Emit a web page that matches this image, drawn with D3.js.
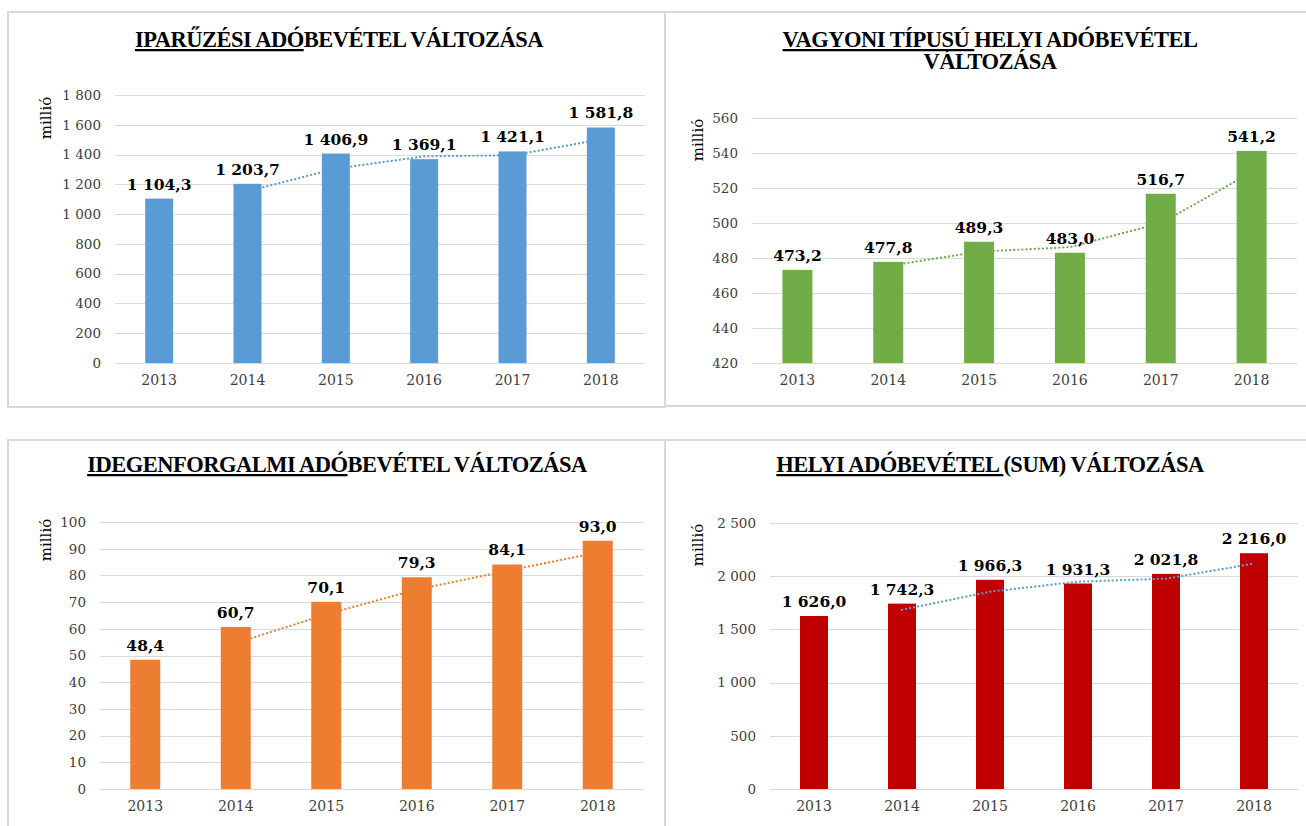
<!DOCTYPE html>
<html>
<head>
<meta charset="utf-8">
<script src="https://cdn.jsdelivr.net/npm/d3@7"></script>
<style>
  html, body { margin: 0; padding: 0; background: #ffffff; }
  svg { display: block; }
</style>
</head>
<body>
<svg id="chart" width="1306" height="826"></svg>
<script>
// ---------------- DATA ----------------
const years = ["2013", "2014", "2015", "2016", "2017", "2018"];

const iparuzesiValues = [1104.3, 1203.7, 1406.9, 1369.1, 1421.1, 1581.8];
const iparuzesiTrend  = [null, 1154.0, 1305.3, 1388.0, 1395.1, 1501.5];
const iparuzesiTicks  = [0, 200, 400, 600, 800, 1000, 1200, 1400, 1600, 1800];

const vagyoniValues = [473.2, 477.8, 489.3, 483.0, 516.7, 541.2];
const vagyoniTrend  = [null, 475.5, 483.6, 486.2, 499.9, 529.0];
const vagyoniTicks  = [420, 440, 460, 480, 500, 520, 540, 560];

const idegenValues = [48.4, 60.7, 70.1, 79.3, 84.1, 93.0];
const idegenTrend  = [null, 54.6, 65.4, 74.7, 81.7, 88.6];
const idegenTicks  = [0, 10, 20, 30, 40, 50, 60, 70, 80, 90, 100];

const helyiValues = [1626.0, 1742.3, 1966.3, 1931.3, 2021.8, 2216.0];
const helyiTrend  = [null, 1684.2, 1854.3, 1948.8, 1976.6, 2118.9];
const helyiTicks  = [0, 500, 1000, 1500, 2000, 2500];

const titleIparuzesi = [[{t: "IPARŰZÉSI ADÓ", u: true}, {t: "BEVÉTEL VÁLTOZÁSA", u: false}]];
const titleVagyoni   = [[{t: "VAGYONI TÍPUSÚ ", u: true}, {t: "HELYI ADÓBEVÉTEL", u: false}], [{t: "VÁLTOZÁSA", u: false}]];
const titleIdegen    = [[{t: "IDEGENFORGALMI ADÓ", u: true}, {t: "BEVÉTEL VÁLTOZÁSA", u: false}]];
const titleHelyi     = [[{t: "HELYI ADÓBEVÉTEL ", u: true}, {t: "(SUM) VÁLTOZÁSA", u: false}]];

const axisTitle = "millió";

// ---------------- STYLE / LAYOUT ----------------
const huLocale = d3.formatLocale({decimal: ",", thousands: "\u00a0", grouping: [3], currency: ["", " Ft"]});
const fmtValue = huLocale.format(",.1f");
const fmtTick = huLocale.format(",d");

const panels = [
  {values: iparuzesiValues, trend: iparuzesiTrend, ticks: iparuzesiTicks, title: titleIparuzesi,
   color: "#5B9BD5", trendColor: "#5B9BD5",
   box: [8, 12, 665, 407], x0: 115, x1: 645, y0: 363, y1: 95, titleX: 339, titleY: 47,
   axisTitleX: 51, axisTitleY: 118, barW: 28},
  {values: vagyoniValues, trend: vagyoniTrend, ticks: vagyoniTicks, title: titleVagyoni,
   color: "#70AD47", trendColor: "#70AD47",
   box: [665, 12, 1320, 406], x0: 752, x1: 1297, y0: 363, y1: 118, titleX: 990, titleY: 47,
   axisTitleX: 703, axisTitleY: 140, barW: 30},
  {values: idegenValues, trend: idegenTrend, ticks: idegenTicks, title: titleIdegen,
   color: "#ED7D31", trendColor: "#ED7D31",
   box: [8, 440, 665, 840], x0: 100, x1: 643, y0: 789, y1: 522, titleX: 337, titleY: 472,
   axisTitleX: 51, axisTitleY: 540, barW: 30},
  {values: helyiValues, trend: helyiTrend, ticks: helyiTicks, title: titleHelyi,
   color: "#C00000", trendColor: "#5B9BD5",
   box: [665, 440, 1320, 840], x0: 770, x1: 1298, y0: 789, y1: 523, titleX: 990, titleY: 472,
   axisTitleX: 703, axisTitleY: 545, barW: 28}
];

const svg = d3.select("#chart");

panels.forEach(p => {
  const g = svg.append("g");

  // panel border
  g.append("rect")
    .attr("x", p.box[0]).attr("y", p.box[1])
    .attr("width", p.box[2] - p.box[0]).attr("height", p.box[3] - p.box[1])
    .attr("fill", "#ffffff").attr("stroke", "#D9D9D9").attr("stroke-width", 2);

  const x = d3.scaleBand().domain(years).range([p.x0, p.x1]);
  const yDomain = d3.extent(p.ticks);
  const y = d3.scaleLinear().domain(yDomain).range([p.y0, p.y1]);

  // gridlines
  g.append("g").selectAll("line").data(p.ticks).join("line")
    .attr("x1", p.x0).attr("x2", p.x1)
    .attr("y1", d => Math.round(y(d)) + 0.5).attr("y2", d => Math.round(y(d)) + 0.5)
    .attr("stroke", "#D9D9D9").attr("stroke-width", 1);

  // y axis
  const yAxis = d3.axisLeft(y).tickValues(p.ticks).tickFormat(fmtTick).tickSize(0).tickPadding(14);
  const ya = g.append("g").attr("transform", `translate(${p.x0},0)`).call(yAxis);
  ya.select(".domain").remove();
  ya.selectAll("text").attr("font-family", "'DejaVu Serif', serif").attr("font-size", 13.5).attr("fill", "#404040");

  // x axis
  const xAxis = d3.axisBottom(x).tickSize(0).tickPadding(12);
  const xa = g.append("g").attr("transform", `translate(0,${p.y0})`).call(xAxis);
  xa.select(".domain").remove();
  xa.selectAll("text").attr("font-family", "'DejaVu Serif', serif").attr("font-size", 14).attr("fill", "#404040");

  // bars
  g.append("g").selectAll("rect").data(p.values).join("rect")
    .attr("x", (d, i) => x(years[i]) + x.bandwidth() / 2 - p.barW / 2)
    .attr("width", p.barW)
    .attr("y", d => y(d))
    .attr("height", d => y(yDomain[0]) - y(d))
    .attr("fill", p.color);

  // trend line (moving average, dotted)
  const line = d3.line()
    .defined(d => d != null)
    .x((d, i) => x(years[i]) + x.bandwidth() / 2)
    .y(d => y(d));
  g.append("path").datum(p.trend)
    .attr("d", line)
    .attr("fill", "none")
    .attr("stroke", p.trendColor)
    .attr("stroke-width", 2.2)
    .attr("stroke-linecap", "round")
    .attr("stroke-dasharray", "0.1,4");

  // data labels
  g.append("g").selectAll("text").data(p.values).join("text")
    .attr("x", (d, i) => x(years[i]) + x.bandwidth() / 2)
    .attr("y", d => y(d) - 9)
    .attr("text-anchor", "middle")
    .attr("font-family", "'DejaVu Serif', serif")
    .attr("font-weight", "bold")
    .attr("font-size", 15.5)
    .attr("fill", "#000000")
    .text(d => fmtValue(d));

  // axis title
  g.append("text")
    .attr("transform", `translate(${p.axisTitleX},${p.axisTitleY}) rotate(-90)`)
    .attr("text-anchor", "middle")
    .attr("font-family", "'DejaVu Serif', serif")
    .attr("font-size", 15)
    .attr("fill", "#000000")
    .text(axisTitle);

  // title
  p.title.forEach((lineParts, li) => {
    const t = g.append("text")
      .attr("x", p.titleX).attr("y", p.titleY + li * 22)
      .attr("text-anchor", "middle")
      .attr("font-family", "'Liberation Serif', serif")
      .attr("font-weight", "bold")
      .attr("font-size", 22.5)
      .attr("letter-spacing", -0.5)
      .attr("fill", "#000000");
    lineParts.forEach(part => {
      t.append("tspan")
        .attr("text-decoration", part.u ? "underline" : null)
        .style("white-space", "pre")
        .text(part.t);
    });
  });
});
</script>
</body>
</html>
